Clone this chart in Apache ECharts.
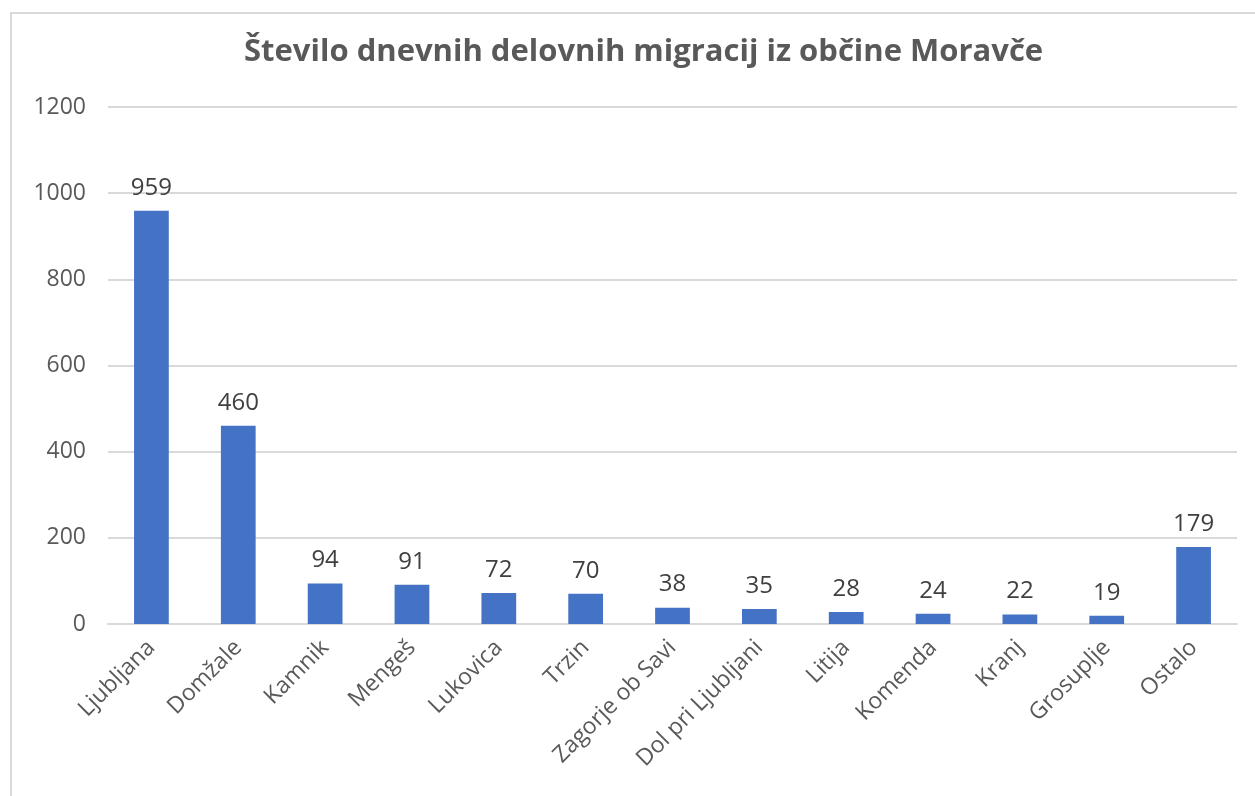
<!DOCTYPE html>
<html>
<head>
<meta charset="utf-8">
<script src="https://cdn.jsdelivr.net/npm/echarts@6/dist/echarts.min.js"></script>
<style>
  html, body { margin: 0; padding: 0; background: #fff; }
  #frame { position: absolute; left: 10px; top: 12px; width: 1250px; height: 800px; border: 2px solid #d9d9d9; box-sizing: border-box; }
  #chart { position: absolute; left: 0; top: 0; width: 1255px; height: 796px; }
</style>
</head>
<body>
<div id="frame"></div>
<div id="chart"></div>
<script>
const titleText = 'Število dnevnih delovnih migracij iz občine Moravče'
const categories = ['Ljubljana', 'Domžale', 'Kamnik', 'Mengeš', 'Lukovica', 'Trzin', 'Zagorje ob Savi', 'Dol pri Ljubljani', 'Litija', 'Komenda', 'Kranj', 'Grosuplje', 'Ostalo']
const values = [959, 460, 94, 91, 72, 70, 38, 35, 28, 24, 22, 19, 179]

const chart = echarts.init(document.getElementById('chart'))

const font = 'Open Sans'

const option = {
  animation: false,
  title: {
    text: titleText,
    left: 239,
    top: 32,
    textStyle: {
      fontFamily: font,
      fontSize: 31,
      fontWeight: 'bold',
      color: '#595959'
    }
  },
  grid: {
    left: 108,
    right: 18,
    top: 107,
    bottom: 172
  },
  xAxis: {
    type: 'category',
    data: categories,
    axisTick: { show: false },
    axisLine: { lineStyle: { color: '#d9d9d9', width: 2 } },
    axisLabel: {
      rotate: 45,
      interval: 0,
      margin: 20,
      fontFamily: font,
      fontSize: 23,
      color: '#595959'
    }
  },
  yAxis: {
    type: 'value',
    min: 0,
    max: 1200,
    interval: 200,
    axisLine: { show: false },
    axisTick: { show: false },
    axisLabel: {
      margin: 22,
      fontFamily: font,
      fontSize: 23,
      color: '#595959',
      formatter: v => String(v)
    },
    splitLine: { lineStyle: { color: '#d9d9d9', width: 2 } }
  },
  series: [{
    type: 'bar',
    data: values,
    barWidth: '40%',
    itemStyle: { color: '#4472c4' },
    label: {
      show: true,
      position: 'top',
      distance: 11,
      fontFamily: font,
      fontSize: 24,
      color: '#404040'
    }
  }]
}

chart.setOption(option)
</script>
</body>
</html>
